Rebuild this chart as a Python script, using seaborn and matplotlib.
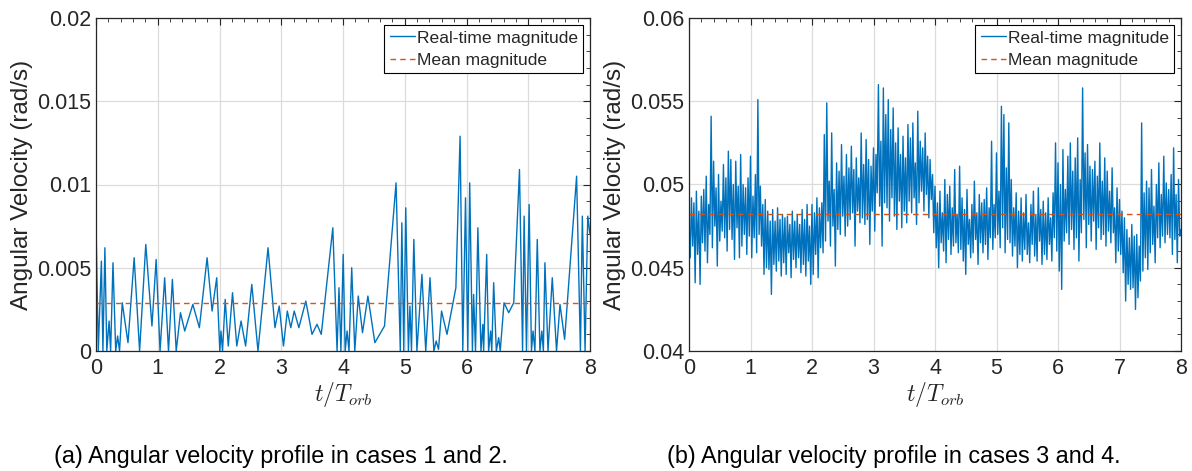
import numpy as np
import pandas as pd
import matplotlib
matplotlib.use("Agg")
import matplotlib.pyplot as plt
from matplotlib.ticker import MultipleLocator, FuncFormatter
import seaborn as sns

# ---------------- data ----------------
# Panel (a): cases 1 and 2 -- time (t/T_orb) and angular velocity magnitude (rad/s)
t_a = [0.000, 0.037, 0.087, 0.112, 0.144, 0.175, 0.212, 0.237, 0.275, 0.319,
       0.350, 0.381, 0.425, 0.518, 0.618, 0.706, 0.806, 0.906, 0.974, 1.037,
       1.112, 1.174, 1.237, 1.299, 1.368, 1.437, 1.568, 1.674, 1.799, 1.880,
       1.955, 2.005, 2.024, 2.049, 2.092, 2.142, 2.211, 2.280, 2.349, 2.423,
       2.523, 2.623, 2.786, 2.898, 2.967, 3.036, 3.098, 3.154, 3.210, 3.285,
       3.398, 3.498, 3.579, 3.648, 3.835, 3.904, 3.935, 3.966, 4.003, 4.035,
       4.066, 4.097, 4.141, 4.191, 4.247, 4.316, 4.403, 4.516, 4.672, 4.859,
       4.928, 4.953, 4.984, 5.016, 5.059, 5.084, 5.109, 5.147, 5.197, 5.278,
       5.340, 5.409, 5.472, 5.509, 5.547, 5.596, 5.684, 5.828, 5.896, 5.940,
       5.984, 6.021, 6.052, 6.096, 6.115, 6.146, 6.184, 6.234, 6.265, 6.277,
       6.327, 6.358, 6.390, 6.409, 6.440, 6.483, 6.521, 6.546, 6.608, 6.683,
       6.765, 6.858, 6.908, 6.933, 6.971, 7.014, 7.052, 7.077, 7.108, 7.146,
       7.189, 7.220, 7.245, 7.270, 7.320, 7.389, 7.458, 7.514, 7.589, 7.783,
       7.845, 7.876, 7.920, 7.964, 8.000]
omega_a = [0.0076, 0.0000, 0.0054, 0.0000, 0.0062, 0.0000, 0.0018, 0.0000, 0.0053, 0.0000,
           0.0009, 0.0000, 0.0029, 0.0005, 0.0056, 0.0000, 0.0064, 0.0015, 0.0055, 0.0000,
           0.0044, 0.0000, 0.0043, 0.0000, 0.0023, 0.0012, 0.0028, 0.0014, 0.0056, 0.0024,
           0.0044, 0.0000, 0.0012, 0.0000, 0.0031, 0.0003, 0.0035, 0.0003, 0.0018, 0.0003,
           0.0040, 0.0000, 0.0062, 0.0014, 0.0027, 0.0003, 0.0024, 0.0014, 0.0024, 0.0014,
           0.0030, 0.0010, 0.0016, 0.0010, 0.0074, 0.0000, 0.0038, 0.0000, 0.0058, 0.0000,
           0.0012, 0.0000, 0.0050, 0.0000, 0.0033, 0.0011, 0.0033, 0.0005, 0.0015, 0.0101,
           0.0000, 0.0077, 0.0000, 0.0086, 0.0000, 0.0027, 0.0000, 0.0067, 0.0000, 0.0046,
           0.0000, 0.0044, 0.0000, 0.0006, 0.0001, 0.0024, 0.0010, 0.0038, 0.0129, 0.0000,
           0.0092, 0.0000, 0.0101, 0.0000, 0.0034, 0.0000, 0.0074, 0.0000, 0.0016, 0.0000,
           0.0058, 0.0000, 0.0012, 0.0000, 0.0041, 0.0000, 0.0008, 0.0000, 0.0029, 0.0023,
           0.0029, 0.0109, 0.0000, 0.0081, 0.0000, 0.0088, 0.0000, 0.0012, 0.0000, 0.0067,
           0.0000, 0.0012, 0.0000, 0.0053, 0.0000, 0.0044, 0.0000, 0.0028, 0.0007, 0.0105,
           0.0000, 0.0081, 0.0000, 0.0081, 0.0070]
mean_a = 0.0029

# Panel (b): cases 3 and 4 -- samples every 0.02 t/T_orb, values in mrad/s
step_b = 0.02
omega_b_mrad = [
    47.8, 45.6, 49.2, 46.3, 48.9, 44.1, 49.6, 45.8, 48.4, 44.0,
    49.3, 46.5, 49.7, 46.0, 50.5, 45.3, 48.8, 47.0, 54.1, 46.2,
    51.4, 47.5, 49.8, 45.1, 50.6, 46.6, 49.0, 47.2, 51.2, 46.8,
    50.4, 46.0, 52.0, 47.3, 51.5, 46.7, 50.0, 45.5, 51.4, 47.4,
    49.9, 45.6, 51.8, 46.3, 50.0, 47.0, 49.8, 45.8, 50.4, 46.9,
    51.7, 45.6, 49.3, 46.8, 50.6, 45.9, 55.1, 47.0, 49.9, 46.3,
    48.8, 44.6, 49.1, 45.0, 48.4, 44.9, 47.8, 43.4, 48.5, 45.2,
    47.8, 44.8, 48.6, 45.4, 47.9, 44.5, 48.2, 45.3, 48.0, 44.6,
    48.1, 45.9, 47.6, 44.4, 48.4, 45.5, 47.8, 45.0, 48.2, 45.6,
    47.6, 44.7, 48.5, 45.2, 47.9, 44.5, 48.8, 45.4, 47.5, 44.0,
    48.8, 44.6, 48.3, 45.8, 49.2, 44.4, 48.6, 46.2, 48.9, 45.9,
    53.0, 46.6, 54.9, 47.8, 50.2, 46.3, 53.1, 47.5, 49.7, 45.1,
    51.3, 47.3, 50.8, 47.0, 52.4, 48.1, 50.5, 46.9, 51.8, 47.5,
    51.0, 47.9, 52.3, 48.3, 50.9, 46.3, 51.6, 48.4, 50.4, 47.7,
    53.1, 48.0, 51.2, 47.6, 52.7, 47.9, 51.5, 46.4, 51.1, 48.4,
    52.2, 47.2, 51.8, 49.5, 56.0, 48.7, 52.6, 46.3, 55.8, 48.9,
    54.2, 48.6, 55.1, 47.8, 53.3, 49.2, 54.6, 48.1, 52.5, 47.3,
    53.4, 49.0, 51.8, 47.4, 52.9, 48.4, 51.6, 47.7, 53.6, 49.0,
    52.8, 48.3, 53.7, 49.2, 51.3, 47.6, 54.4, 48.9, 52.6, 49.6,
    52.2, 48.4, 53.1, 49.4, 51.7, 48.0, 51.5, 49.1, 50.6, 47.1,
    49.9, 46.2, 48.9, 45.0, 49.6, 46.5, 48.3, 46.0, 50.3, 45.3,
    49.4, 46.7, 49.9, 45.8, 48.6, 46.3, 50.9, 46.5, 48.2, 45.9,
    51.1, 46.1, 49.2, 45.4, 48.5, 44.6, 49.7, 46.4, 47.9, 45.6,
    48.8, 45.9, 50.2, 46.7, 48.3, 45.2, 49.4, 46.5, 48.9, 45.9,
    49.1, 46.4, 49.8, 45.5, 48.6, 46.8, 52.6, 46.1, 48.8, 46.8,
    51.9, 47.0, 49.6, 46.2, 54.7, 47.4, 54.2, 45.9, 51.0, 46.7,
    53.7, 46.5, 50.3, 45.7, 48.6, 46.3, 49.5, 45.0, 48.4, 45.8,
    49.2, 45.4, 48.3, 46.1, 49.4, 45.8, 47.7, 45.3, 48.8, 46.4,
    49.6, 45.7, 48.2, 45.4, 49.8, 46.6, 48.5, 45.2, 49.0, 45.8,
    48.3, 45.5, 49.2, 46.4, 48.0, 45.4, 49.5, 46.8, 52.5, 46.0,
    51.3, 44.8, 50.0, 43.7, 52.1, 46.6, 49.7, 47.1, 51.7, 46.4,
    52.5, 47.3, 50.8, 46.1, 51.6, 46.8, 52.8, 45.4, 50.3, 47.1,
    55.8, 47.9, 51.9, 46.2, 52.4, 47.6, 51.1, 46.6, 50.9, 47.8,
    51.4, 46.1, 50.5, 47.4, 52.5, 46.7, 50.2, 47.0, 51.6, 46.3,
    50.8, 47.2, 49.6, 46.5, 51.0, 47.1, 48.6, 45.3, 49.8, 46.0,
    49.1, 45.8, 48.4, 44.7, 48.0, 43.0, 47.3, 44.0, 46.8, 43.7,
    47.6, 43.8, 46.9, 42.5, 47.0, 43.2, 46.3, 44.2, 53.7, 44.8,
    49.5, 45.6, 50.2, 44.9, 49.8, 45.9, 50.9, 46.4, 48.7, 45.3,
    50.0, 46.8, 51.3, 46.2, 49.4, 46.9, 51.7, 46.5, 50.1, 47.0,
    49.7, 46.8, 50.6, 45.8, 52.2, 46.7, 49.4, 45.3, 50.3, 46.9,
    47.3]
mean_b = 0.0482

captions = ["(a) Angular velocity profile in cases 1 and 2.",
            "(b) Angular velocity profile in cases 3 and 4."]
caption_x = [281 / 1192, 894 / 1192]
ylims = [(0.0, 0.02), (0.04, 0.06)]
ymajor = [0.005, 0.005]
yminor = [0.001, 0.001]

# ---------------- styling ----------------
sns.set_style("white")
plt.rcParams["font.family"] = ["Liberation Sans", "DejaVu Sans"]
plt.rcParams["mathtext.fontset"] = "cm"

BLUE = "#0072BD"
ORANGE = "#D95319"

df_a = pd.DataFrame({"t": t_a, "omega": omega_a})
t_b = np.round(np.arange(len(omega_b_mrad)) * step_b, 4)
df_b = pd.DataFrame({"t": t_b, "omega": np.array(omega_b_mrad) / 1000.0})

fig = plt.figure(figsize=(11.92, 4.71), dpi=100)
ax_a = fig.add_axes([96 / 1192, 1 - 351 / 471, 494 / 1192, 333 / 471])
ax_b = fig.add_axes([689 / 1192, 1 - 351 / 471, 492 / 1192, 333 / 471])

for ax, df, mean, ylim, ymj, ymn, cap, cx in zip(
        [ax_a, ax_b], [df_a, df_b], [mean_a, mean_b], ylims, ymajor, yminor,
        captions, caption_x):
    sns.lineplot(data=df, x="t", y="omega", ax=ax, color=BLUE, linewidth=1.0,
                 estimator=None, sort=False, label="Real-time magnitude")
    ax.axhline(mean, color=ORANGE, linestyle=(0, (4, 3)), linewidth=1.0,
               label="Mean magnitude")
    ax.set_xlim(0, 8)
    ax.set_ylim(*ylim)
    ax.xaxis.set_major_locator(MultipleLocator(1))
    ax.xaxis.set_minor_locator(MultipleLocator(0.2))
    ax.yaxis.set_major_locator(MultipleLocator(ymj))
    ax.yaxis.set_minor_locator(MultipleLocator(ymn))
    ax.yaxis.set_major_formatter(FuncFormatter(lambda v, p: "%g" % round(v, 6)))
    ax.grid(True, which="major", color="#dcdcdc", linewidth=0.9)
    ax.set_axisbelow(True)
    ax.tick_params(which="both", direction="in", top=True, right=True,
                   colors="#262626", labelcolor="#262626", labelsize=15.5)
    ax.tick_params(which="major", length=5, width=0.8)
    ax.tick_params(which="minor", length=3, width=0.6)
    ax.tick_params(axis="x", pad=5)
    for s in ax.spines.values():
        s.set_color("#262626")
        s.set_linewidth(0.9)
    ax.set_xlabel(r"$t/T_{orb}$", fontsize=17, color="#262626", labelpad=1)
    ax.set_ylabel("Angular Velocity (rad/s)", fontsize=17.5, color="#262626", labelpad=3)
    leg = ax.legend(loc="upper right", fontsize=12.6, frameon=True, fancybox=False,
                    edgecolor="black", framealpha=1, borderpad=0.3, labelspacing=0.42,
                    handlelength=1.45, handletextpad=0.1, borderaxespad=0.4)
    leg.get_frame().set_linewidth(0.8)
    fig.text(cx, 1 - 456 / 471, cap, ha="center", va="center",
             fontsize=16.8, color="black")

fig.savefig("out.png", dpi=100)
